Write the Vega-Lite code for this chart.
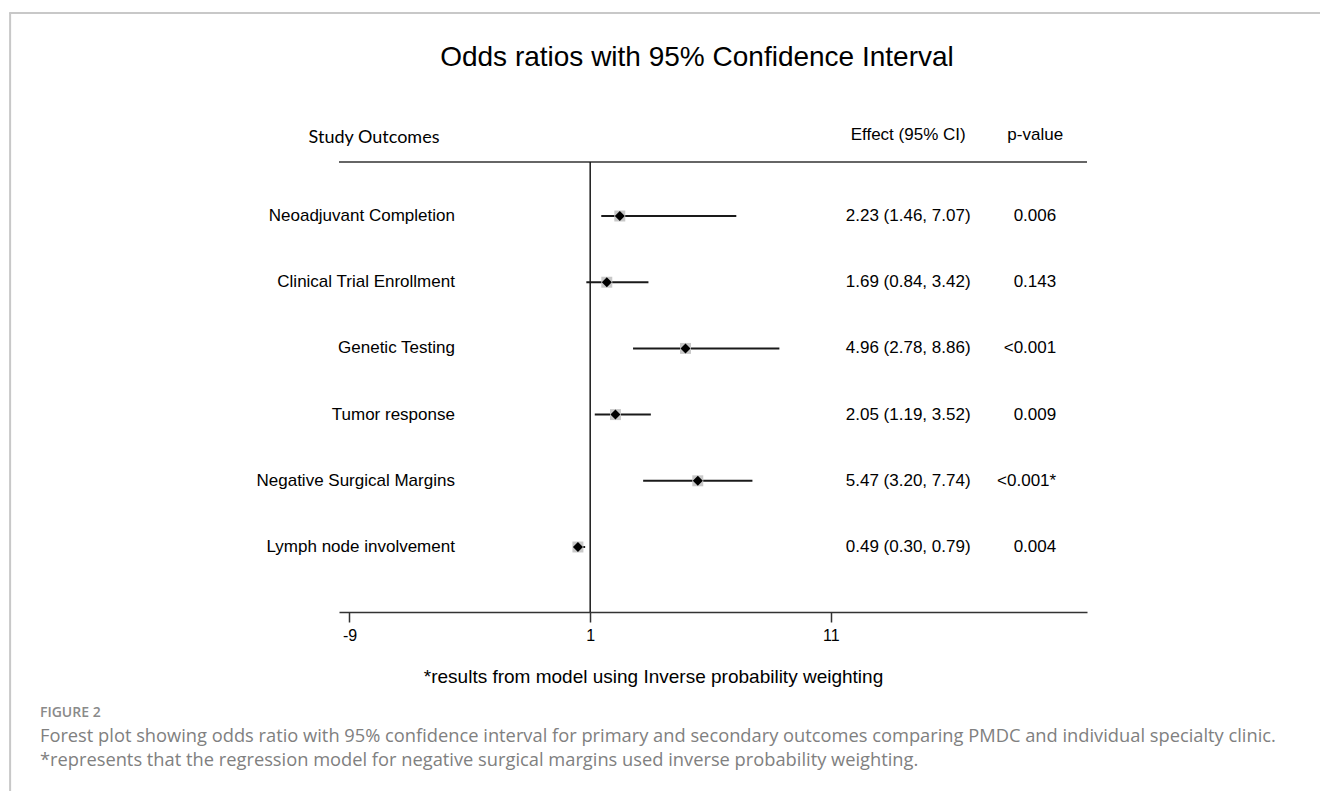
{
  "$schema": "https://vega.github.io/schema/vega-lite/v6.json",
  "width": 748,
  "height": 450,
  "autosize": "none",
  "padding": {"left": 339, "top": 162, "right": 233, "bottom": 179},
  "background": "white",
  "config": {"view": {"stroke": null}, "font": "Liberation Sans"},
  "datasets": {
    "rows": [
      {"outcome": "Neoadjuvant Completion", "row": 1, "or": 2.23, "lo": 1.46, "hi": 7.07, "effect": "2.23 (1.46, 7.07)", "p": "0.006"},
      {"outcome": "Clinical Trial Enrollment", "row": 2, "or": 1.69, "lo": 0.84, "hi": 3.42, "effect": "1.69 (0.84, 3.42)", "p": "0.143"},
      {"outcome": "Genetic Testing", "row": 3, "or": 4.96, "lo": 2.78, "hi": 8.86, "effect": "4.96 (2.78, 8.86)", "p": "<0.001"},
      {"outcome": "Tumor response", "row": 4, "or": 2.05, "lo": 1.19, "hi": 3.52, "effect": "2.05 (1.19, 3.52)", "p": "0.009"},
      {"outcome": "Negative Surgical Margins", "row": 5, "or": 5.47, "lo": 3.20, "hi": 7.74, "effect": "5.47 (3.20, 7.74)", "p": "<0.001*"},
      {"outcome": "Lymph node involvement", "row": 6, "or": 0.49, "lo": 0.30, "hi": 0.79, "effect": "0.49 (0.30, 0.79)", "p": "0.004"}
    ],
    "one": [{}]
  },
  "data": {"name": "rows"},
  "layer": [
    {
      "data": {"name": "one"},
      "mark": {"type": "rule", "color": "#333333", "strokeWidth": 1.5},
      "encoding": {
        "y": {"datum": 0.184, "type": "quantitative", "scale": {"domain": [0.184, 6.982], "reverse": true, "nice": false, "zero": false}, "axis": null}
      }
    },
    {
      "data": {"name": "one"},
      "mark": {"type": "rule", "color": "#c8c8c8", "strokeWidth": 2},
      "encoding": {"x": {"datum": -23.1, "type": "quantitative"}, "y": {"datum": -2.066, "type": "quantitative"}, "y2": {"datum": 9.7}}
    },
    {
      "data": {"name": "one"},
      "mark": {"type": "rule", "color": "#c8c8c8", "strokeWidth": 2},
      "encoding": {"x": {"datum": -23.14, "type": "quantitative"}, "x2": {"datum": 31.4}, "y": {"datum": -2.066, "type": "quantitative"}}
    },
    {
      "data": {"name": "one"},
      "mark": {"type": "rule", "color": "#1a1a1a", "strokeWidth": 1.5},
      "encoding": {"x": {"datum": 1, "type": "quantitative"}}
    },
    {
      "mark": {"type": "rule", "color": "#1a1a1a", "strokeWidth": 2},
      "encoding": {
        "x": {"field": "lo", "type": "quantitative",
          "scale": {"domain": [-9.436, 21.64], "nice": false, "zero": false},
          "axis": {"values": [-9, 1, 11], "labelExpr": "'' + datum.value", "grid": false, "tickSize": 10, "tickColor": "#333333", "tickWidth": 1.5,
            "domainColor": "#333333", "domainWidth": 1.5, "labelFontSize": 16, "labelColor": "#000000", "labelFont": "Liberation Sans", "labelPadding": 5,
            "title": "*results from model using Inverse probability weighting", "titleFont": "Liberation Sans", "titleFontSize": 19, "titleFontWeight": "normal", "titleColor": "#000000",
            "titleX": 314, "titleY": 64, "titleBaseline": "middle", "titleAnchor": "middle"}},
        "x2": {"field": "hi"},
        "y": {"field": "row", "type": "quantitative"}
      }
    },
    {
      "mark": {"type": "point", "shape": "square", "filled": true, "color": "#c8c8c8", "opacity": 1, "size": 120},
      "encoding": {"x": {"field": "or", "type": "quantitative"}, "y": {"field": "row", "type": "quantitative"}}
    },
    {
      "mark": {"type": "point", "shape": "diamond", "filled": true, "color": "#000000", "opacity": 1, "size": 100},
      "encoding": {"x": {"field": "or", "type": "quantitative"}, "y": {"field": "row", "type": "quantitative"}}
    },
    {
      "mark": {"type": "text", "align": "right", "baseline": "middle", "fontSize": 17, "font": "Liberation Sans", "color": "#000000"},
      "encoding": {"x": {"datum": -4.62, "type": "quantitative"}, "y": {"field": "row", "type": "quantitative"}, "text": {"field": "outcome"}}
    },
    {
      "mark": {"type": "text", "align": "center", "baseline": "middle", "fontSize": 17, "font": "Liberation Sans", "color": "#000000"},
      "encoding": {"x": {"datum": 14.21, "type": "quantitative"}, "y": {"field": "row", "type": "quantitative"}, "text": {"field": "effect"}}
    },
    {
      "mark": {"type": "text", "align": "right", "baseline": "middle", "fontSize": 17, "font": "Liberation Sans", "color": "#000000"},
      "encoding": {"x": {"datum": 20.36, "type": "quantitative"}, "y": {"field": "row", "type": "quantitative"}, "text": {"field": "p"}}
    },
    {
      "data": {"name": "one"},
      "mark": {"type": "text", "align": "center", "baseline": "middle", "fontSize": 18, "font": "Lato", "color": "#000000", "text": "Study Outcomes"},
      "encoding": {"x": {"datum": -7.98, "type": "quantitative"}, "y": {"datum": -0.18, "type": "quantitative"}}
    },
    {
      "data": {"name": "one"},
      "mark": {"type": "text", "align": "center", "baseline": "middle", "fontSize": 17, "font": "Liberation Sans", "color": "#000000", "text": "Effect (95% CI)"},
      "encoding": {"x": {"datum": 14.21, "type": "quantitative"}, "y": {"datum": -0.22, "type": "quantitative"}}
    },
    {
      "data": {"name": "one"},
      "mark": {"type": "text", "align": "center", "baseline": "middle", "fontSize": 17, "font": "Liberation Sans", "color": "#000000", "text": "p-value"},
      "encoding": {"x": {"datum": 19.49, "type": "quantitative"}, "y": {"datum": -0.22, "type": "quantitative"}}
    },
    {
      "data": {"name": "one"},
      "mark": {"type": "text", "align": "center", "baseline": "middle", "fontSize": 28, "font": "Liberation Sans", "color": "#000000", "text": "Odds ratios with 95% Confidence Interval"},
      "encoding": {"x": {"datum": 5.437, "type": "quantitative"}, "y": {"datum": -1.39, "type": "quantitative"}}
    },
    {
      "data": {"name": "one"},
      "mark": {"type": "text", "align": "left", "baseline": "middle", "fontSize": 14, "fontWeight": 600, "font": "Open Sans", "color": "#8a8a8a", "text": "FIGURE 2"},
      "encoding": {"x": {"datum": -21.86, "type": "quantitative"}, "y": {"datum": 8.508, "type": "quantitative"}}
    },
    {
      "data": {"name": "one"},
      "mark": {"type": "text", "align": "left", "baseline": "middle", "fontSize": 18.3, "font": "Open Sans", "color": "#808080", "text": "Forest plot showing odds ratio with 95% confidence interval for primary and secondary outcomes comparing PMDC and individual specialty clinic."},
      "encoding": {"x": {"datum": -21.86, "type": "quantitative"}, "y": {"datum": 8.87, "type": "quantitative"}}
    },
    {
      "data": {"name": "one"},
      "mark": {"type": "text", "align": "left", "baseline": "middle", "fontSize": 18.3, "font": "Open Sans", "color": "#808080", "text": "*represents that the regression model for negative surgical margins used inverse probability weighting."},
      "encoding": {"x": {"datum": -21.86, "type": "quantitative"}, "y": {"datum": 9.233, "type": "quantitative"}}
    }
  ]
}
